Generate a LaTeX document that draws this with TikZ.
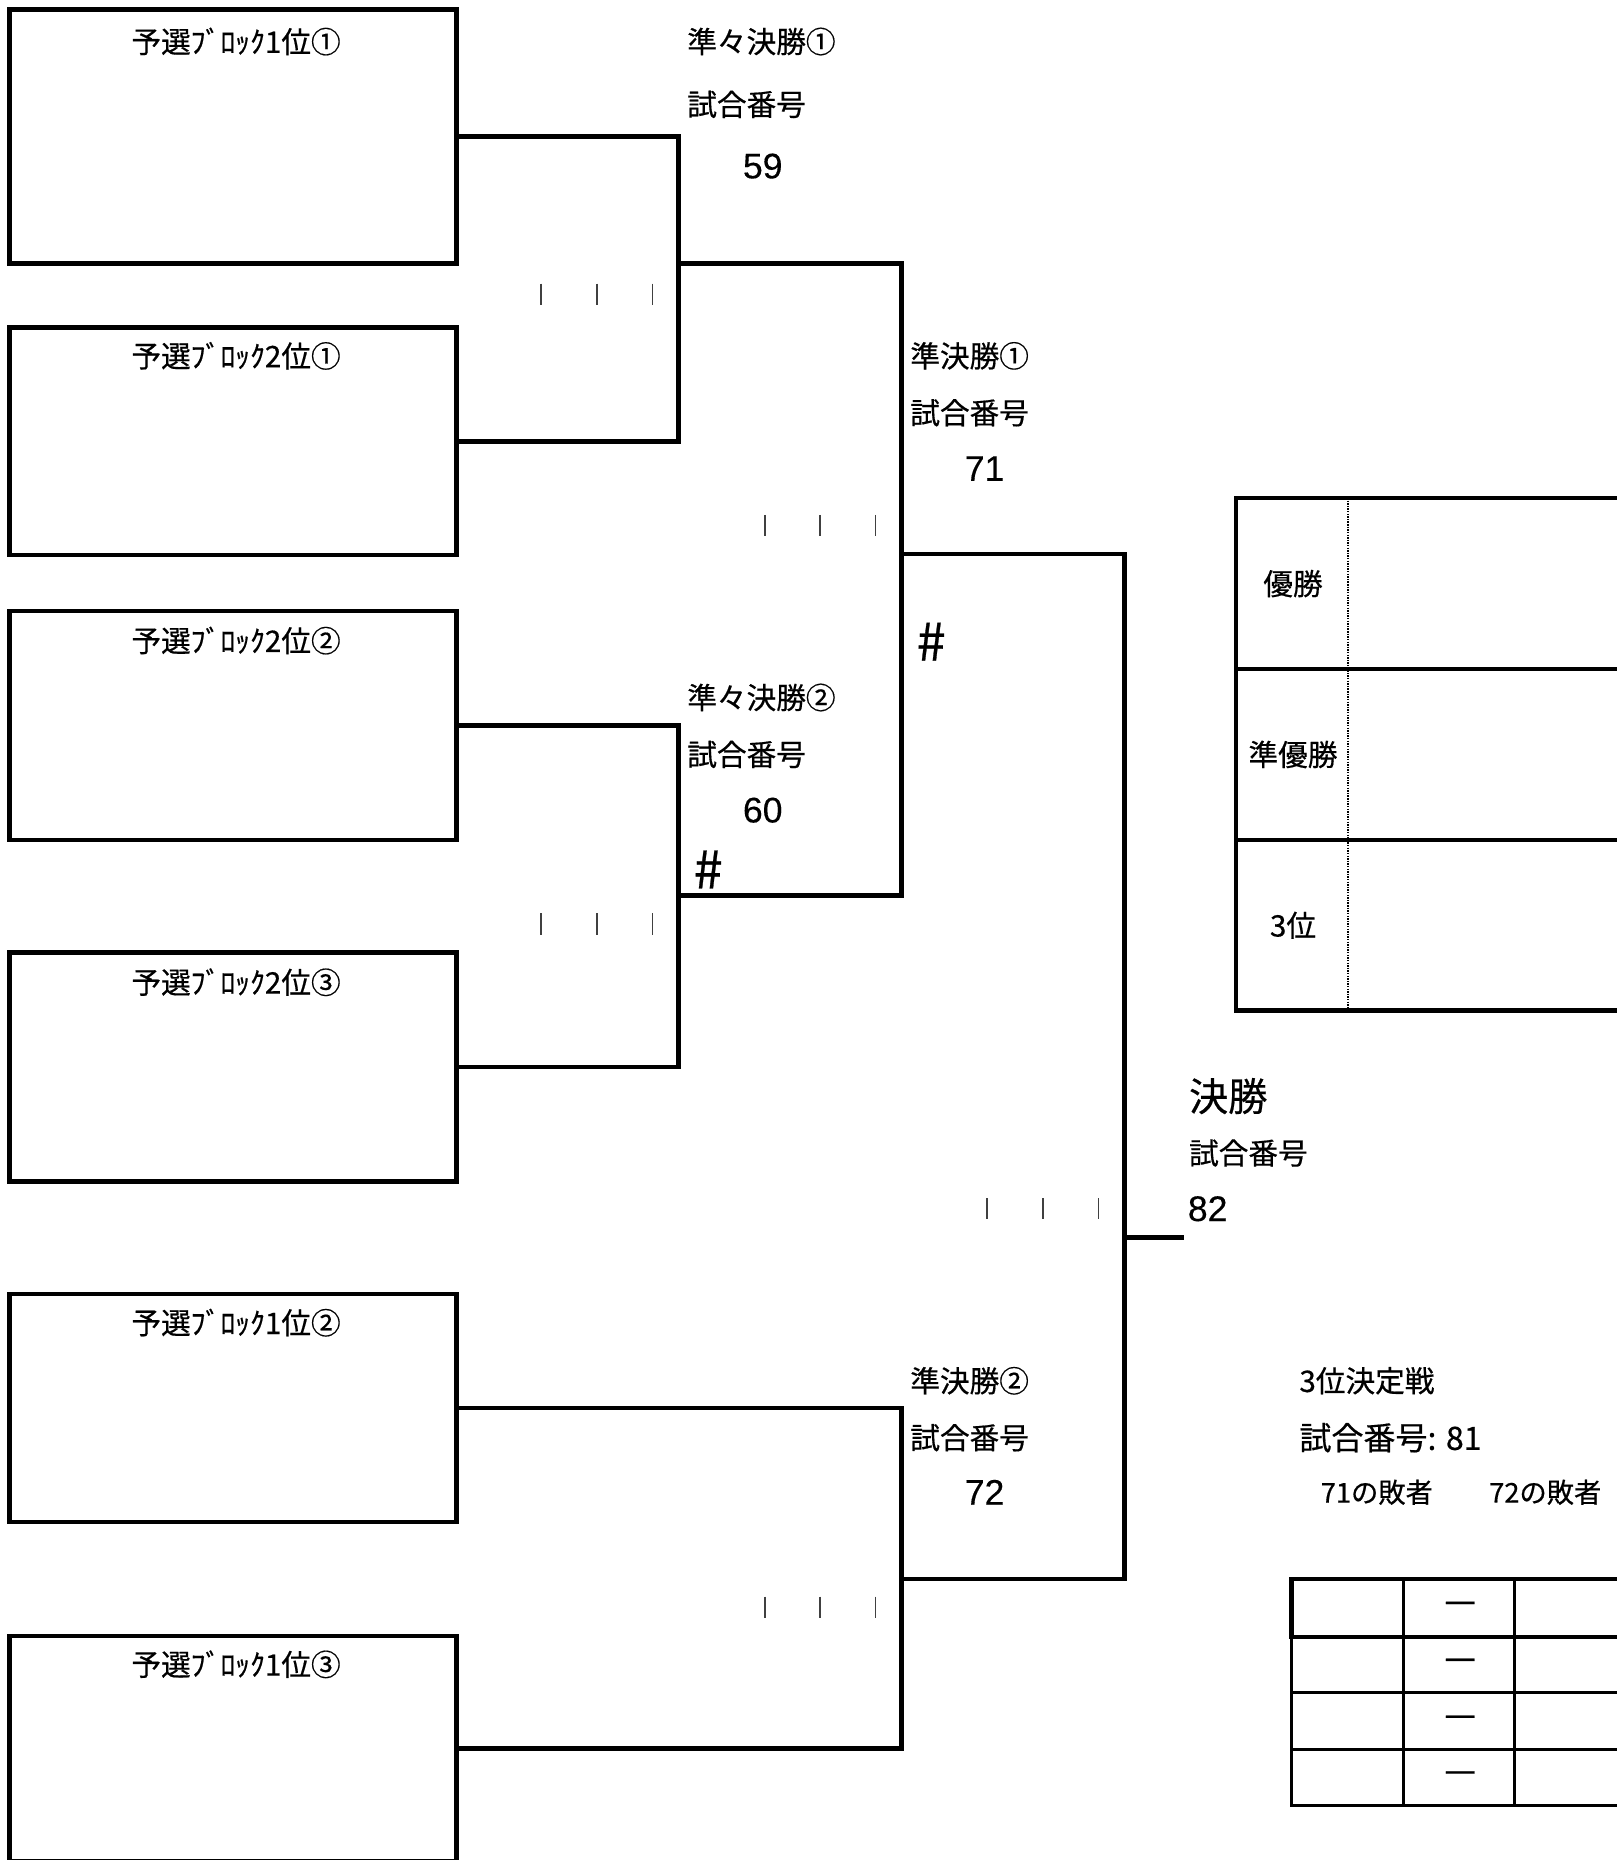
\documentclass[tikz,border=0pt]{standalone}
\usepackage{fontspec}
\newfontfamily\jp[FakeBold=0.5]{Noto Sans CJK JP}
\newfontfamily\digits[FakeBold=0.3]{Liberation Sans}
\begin{document}
\begin{tikzpicture}[x=0.5pt,y=-0.5pt,
  box/.style={draw,line width=1.9pt,inner sep=0pt,outer sep=0pt,minimum width=188.5pt},
  wire/.style={line width=1.9pt,line cap=rect},
  txt/.style={inner sep=0pt,font=\jp\fontsize{12.5}{15}\selectfont},
  lt/.style={txt,anchor=west},
  num/.style={inner sep=0pt,font=\digits\fontsize{15}{18}\selectfont},
  sharp/.style={inner sep=0pt,font=\jp\fontsize{22}{24}\selectfont},
  tickmark/.style={line width=0.7pt,draw=black!75},
  frame/.style={line width=1.9pt},
  thin/.style={line width=1.2pt}]
\useasboundingbox (0,0) rectangle (1363,1568);
\fill[white] (0,0) rectangle (1363,1568);
% entry boxes
\node[box,minimum height=107pt] (b1) at (196.5,115) {};
\node[box,minimum height=96pt] (b2) at (196.5,372) {};
\node[box,minimum height=96.5pt] (b3) at (196.5,611.5) {};
\node[box,minimum height=96.5pt] (b4) at (196.5,899.5) {};
\node[box,minimum height=96pt] (b5) at (196.5,1187) {};
\node[box,minimum height=95pt] (b6) at (196.5,1474) {};
\node[txt] (l1) at (199,35) {予選ﾌﾞﾛｯｸ1位①};
\node[txt] (l2) at (199,300) {予選ﾌﾞﾛｯｸ2位①};
\node[txt] (l3) at (199,540) {予選ﾌﾞﾛｯｸ2位②};
\node[txt] (l4) at (199,828) {予選ﾌﾞﾛｯｸ2位③};
\node[txt] (l5) at (199,1115) {予選ﾌﾞﾛｯｸ1位②};
\node[txt] (l6) at (199,1403) {予選ﾌﾞﾛｯｸ1位③};
% bracket junctions
\coordinate (q1) at (572,222);
\coordinate (q2) at (572,755);
\coordinate (s1) at (760,467);
\coordinate (s2) at (760,1331);
\coordinate (f) at (948,1043);
\coordinate (fend) at (996,1043);
\draw[wire] (b1.east) -| (q1) |- (b2.east);
\draw[wire] (b3.east) -| (q2) |- (b4.east);
\draw[wire] (q1) -| (s1) |- (q2);
\draw[wire] (b5.east) -| (s2) |- (b6.east);
\draw[wire] (s1) -| (f) |- (s2);
\draw[wire] (f) -- (fend);
% tick marks
\foreach \x/\y in {456/248,503/248,550/248,645/443,691/443,738/443,456/779,503/779,550/779,832/1019,879/1019,926/1019,645/1355,691/1355,738/1355}
  \draw[tickmark] (\x,\y-9) -- (\x,\y+9);
% match labels
\node[lt] (qf1a) at (579,35) {準々決勝①};
\node[lt] (qf1b) at (579,88) {試合番号};
\node[num] (qf1n) at (643,140) {59};
\node[lt] (sf1a) at (767,300) {準決勝①};
\node[lt] (sf1b) at (767,348) {試合番号};
\node[num] (sf1n) at (830,395) {71};
\node[sharp] (sh1) at (785,541) {\#};
\node[lt] (qf2a) at (579,588) {準々決勝②};
\node[lt] (qf2b) at (579,636) {試合番号};
\node[num] (qf2n) at (643,683) {60};
\node[sharp] (sh2) at (597,733) {\#};
\node[lt] (sf2a) at (767,1164) {準決勝②};
\node[lt] (sf2b) at (767,1212) {試合番号};
\node[num] (sf2n) at (830,1258) {72};
\node[anchor=west,inner sep=0pt,font=\jp\fontsize{16.5}{20}\selectfont] (fa) at (1002,924) {決勝};
\node[lt] (fb) at (1002,972) {試合番号};
\node[num,anchor=west] (fn) at (1001,1019) {82};
\node[lt] (ta) at (1095,1164) {3位決定戦};
\node[lt,font=\jp\fontsize{13.5}{16}\selectfont] (tb) at (1095,1212) {試合番号: 81};
\node[lt,font=\jp\fontsize{11.5}{14}\selectfont] (tc) at (1113,1258) {71の敗者};
\node[lt,font=\jp\fontsize{11.5}{14}\selectfont] (td) at (1255,1258) {72の敗者};
% results table
\draw[frame] (1390,420) -- (1042,420) -- (1042,852) -- (1390,852);
\draw[frame] (1042,564) -- (1390,564);
\draw[frame] (1042,708) -- (1390,708);
\draw[line width=0.8pt,dash pattern=on 0.6pt off 0.5pt] (1136,422) -- (1136,850);
\node[txt] (r1) at (1090,492) {優勝};
\node[txt] (r2) at (1090,636) {準優勝};
\node[txt] (r3) at (1090,780) {3位};
% score table
\draw[thin] (1089,1380) -- (1089,1522) -- (1390,1522);
\draw[thin] (1089,1427) -- (1390,1427);
\draw[thin] (1089,1475) -- (1390,1475);
\draw[thin] (1183,1331) -- (1183,1522);
\draw[thin] (1277,1331) -- (1277,1522);
\draw[line width=2pt] (1390,1331) -- (1089,1331) -- (1089,1380) -- (1390,1380);
\foreach \y [count=\i] in {1355,1403,1451,1498}
  \node[txt,font=\jp\fontsize{15}{16}\selectfont] (d\i) at (1231,\y) {—};
\end{tikzpicture}
\end{document}
